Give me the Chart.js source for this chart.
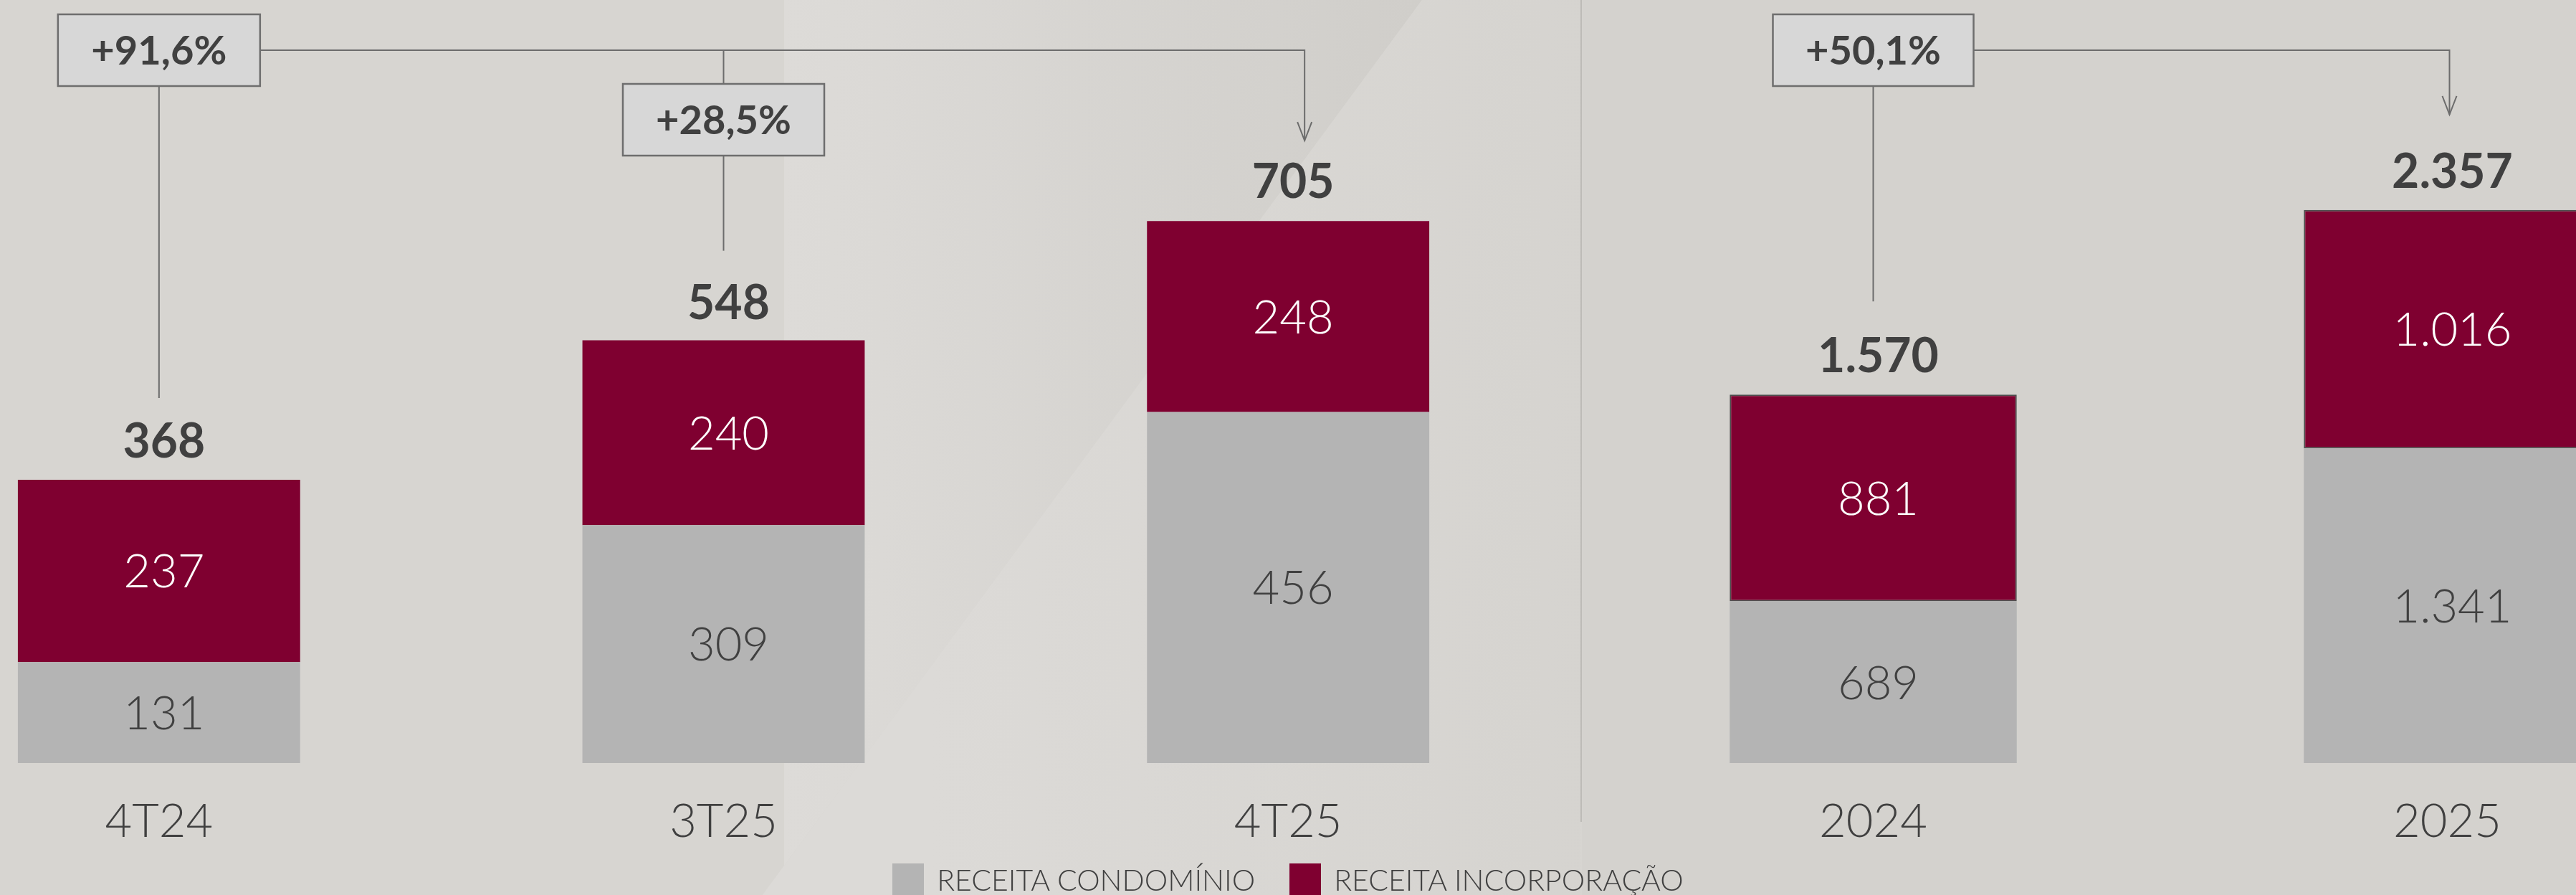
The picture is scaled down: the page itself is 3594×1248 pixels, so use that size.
<!DOCTYPE html>
<html>
<head>
<meta charset="utf-8">
<script src="https://cdn.jsdelivr.net/npm/chart.js@4.4.1/dist/chart.umd.min.js"></script>
<style>
html, body { margin: 0; padding: 0; }
body { width: 3594px; height: 1248px; overflow: hidden; position: relative; background: #d7d5d1; font-family: Lato, sans-serif; }
#bg { position: absolute; left: 0; top: 0; }
canvas { position: absolute; top: 0; }
#chartQ { left: -172px; }
#chartY { left: 2213px; }
#divider { position: absolute; left: 2205px; top: 0; width: 2px; height: 1146px; background: #bdbbb7; }
#legend { position: absolute; left: 0; top: 1204px; width: 3594px; height: 44px; display: flex; justify-content: center; align-items: center; }
.item { display: flex; align-items: center; height: 44px; }
.sw { width: 44px; height: 44px; margin-right: 18px; }
.txt { font: 300 41px Lato, sans-serif; color: #404040; line-height: 44px; position: relative; top: 1px; }
.gap { width: 48px; }
</style>
</head>
<body>
<svg id="bg" width="3594" height="1248">
  <defs>
    <linearGradient id="g1" x1="1094" y1="0" x2="1984" y2="0" gradientUnits="userSpaceOnUse">
      <stop offset="0" stop-color="#dddbd8"/>
      <stop offset="1" stop-color="#d0ceca"/>
    </linearGradient>
    <linearGradient id="g2" x1="1300" y1="0" x2="2300" y2="0" gradientUnits="userSpaceOnUse">
      <stop offset="0" stop-color="#dcdad7"/>
      <stop offset="1" stop-color="#d5d3cf"/>
    </linearGradient>
  </defs>
  <polygon points="1094,0 1984,0 1064,1248 1094,1248" fill="url(#g1)"/>
  <polygon points="1984,0 2205,0 2205,1248 1064,1248" fill="url(#g2)"/>
  <rect x="2207" y="0" width="1387" height="1248" fill="#d4d2ce"/>
</svg>
<div id="divider"></div>
<canvas id="chartQ" width="2363" height="1248"></canvas>
<canvas id="chartY" width="1602" height="1248"></canvas>
<div id="legend"></div>
<script>
// ---- data ----
const quarterLabels = ['4T24', '3T25', '4T25'];
const condominioQ   = [131, 309, 456];
const incorporacaoQ = [237, 240, 248];
const totalQ        = [368, 548, 705];
const growthQ       = ['+91,6%', '+28,5%'];

const yearLabels    = ['2024', '2025'];
const condominioY   = [689, 1341];
const incorporacaoY = [881, 1016];
const totalY        = [1570, 2357];
const growthY       = ['+50,1%'];

const seriesNames   = ['RECEITA CONDOMÍNIO', 'RECEITA INCORPORAÇÃO'];

// ---- style ----
const GRAY = '#b4b4b4';
const RED = '#7f0030';
const TEXT = '#404040';
const LINE = '#6c6c6c';
const FONT = 'Lato, "Open Sans", sans-serif';
const LABEL_DX = 7;
const fmt = v => v.toLocaleString('pt-BR');

// legend (html text)
const legend = document.getElementById('legend');
[GRAY, RED].forEach((c, i) => {
  if (i > 0) { const g = document.createElement('div'); g.className = 'gap'; legend.appendChild(g); }
  const it = document.createElement('div'); it.className = 'item';
  const sw = document.createElement('div'); sw.className = 'sw'; sw.style.background = c;
  const tx = document.createElement('div'); tx.className = 'txt'; tx.textContent = seriesNames[i];
  it.appendChild(sw); it.appendChild(tx); legend.appendChild(it);
});

function drawCentered(ctx, text, x, yCenter, size, weight, color) {
  ctx.font = `${weight} ${size}px ${FONT}`;
  ctx.fillStyle = color;
  ctx.textAlign = 'center';
  ctx.textBaseline = 'alphabetic';
  ctx.fillText(text, x, yCenter + size * 0.358);
}

// plugin: segment values, totals, growth annotations
const labelsPlugin = {
  id: 'labelsPlugin',
  afterDatasetsDraw(chart) {
    const ctx = chart.ctx;
    const cfg = chart.options.plugins.labelsPlugin;
    const yScale = chart.scales.y;
    const xScale = chart.scales.x;
    ctx.save();
    // segment values
    chart.data.datasets.forEach((ds, di) => {
      const meta = chart.getDatasetMeta(di);
      meta.data.forEach((el, i) => {
        const yc = (el.y + el.base) / 2;
        drawCentered(ctx, fmt(ds.data[i]), el.x + LABEL_DX, yc, 65, 300, di === 0 ? TEXT : '#ffffff');
      });
    });
    // totals
    const tops = cfg.totals.map((t, i) => yScale.getPixelForValue(t));
    cfg.totals.forEach((t, i) => {
      ctx.font = `700 66px ${FONT}`;
      ctx.fillStyle = TEXT;
      ctx.textAlign = 'center';
      ctx.textBaseline = 'alphabetic';
      ctx.fillText(fmt(t), xScale.getPixelForValue(i) + LABEL_DX, tops[i] - 31);
    });
    // growth annotations
    ctx.strokeStyle = LINE;
    ctx.lineWidth = 2;
    cfg.growth.forEach(g => {
      const xc = xScale.getPixelForValue(g.from);
      const bx = xc - g.w / 2, by = g.top, bw = g.w, bh = 100;
      if (g.hang) {
        ctx.beginPath(); ctx.moveTo(xc, 70); ctx.lineTo(xc, by); ctx.stroke();
      }
      ctx.beginPath(); ctx.moveTo(xc, by + bh); ctx.lineTo(xc, tops[g.from] - g.drop); ctx.stroke();
      if (g.to !== null) {
        const ax = xScale.getPixelForValue(g.to) + g.dx;
        const tipY = tops[g.to] - g.arrowGap;
        ctx.beginPath();
        ctx.moveTo(bx + bw, by + bh / 2);
        ctx.lineTo(ax, by + bh / 2);
        ctx.lineTo(ax, tipY);
        ctx.stroke();
        ctx.beginPath();
        ctx.moveTo(ax - 10, tipY - 26); ctx.lineTo(ax, tipY); ctx.lineTo(ax + 10, tipY - 26);
        ctx.stroke();
      }
      ctx.fillStyle = '#d7d7d7';
      ctx.fillRect(bx, by, bw, bh);
      ctx.lineWidth = 2.5;
      ctx.strokeStyle = '#6e6e6e';
      ctx.strokeRect(bx, by, bw, bh);
      ctx.lineWidth = 2;
      ctx.strokeStyle = LINE;
      drawCentered(ctx, g.label, xc, by + bh / 2, 56, 700, TEXT);
    });
    ctx.restore();
  }
};

function makeChart(id, labels, cond, inc, totals, yMax, growth, redBorder) {
  return new Chart(document.getElementById(id), {
    type: 'bar',
    data: {
      labels: labels,
      datasets: [
        { label: seriesNames[0], data: cond, backgroundColor: GRAY, borderWidth: 0 },
        { label: seriesNames[1], data: inc, backgroundColor: RED,
          borderColor: '#4d4d4d', borderWidth: redBorder ? 2 : 0, borderSkipped: false }
      ]
    },
    options: {
      responsive: false,
      animation: false,
      events: [],
      layout: { padding: { top: 0, bottom: 20, left: 0, right: 0 } },
      datasets: { bar: { categoryPercentage: 1, barPercentage: 0.5 } },
      scales: {
        x: {
          stacked: true,
          grid: { display: false, drawTicks: false },
          border: { display: false },
          ticks: { color: TEXT, padding: 43, maxRotation: 0, font: { family: FONT, size: 65, weight: 300 } }
        },
        y: { stacked: true, display: false, min: 0, max: yMax }
      },
      plugins: {
        legend: { display: false },
        tooltip: { enabled: false },
        labelsPlugin: { totals: totals, growth: growth }
      }
    },
    plugins: [labelsPlugin]
  });
}

function build() {
  makeChart('chartQ', quarterLabels, condominioQ, incorporacaoQ, totalQ, 991, [
    { from: 0, to: 2, label: growthQ[0], w: 282, top: 20, hang: false, drop: 114, dx: 23, arrowGap: 111 },
    { from: 1, to: null, label: growthQ[1], w: 281, top: 117, hang: true, drop: 126 }
  ], false);
  makeChart('chartY', yearLabels, condominioY, incorporacaoY, totalY, 3252, [
    { from: 0, to: 1, label: growthY[0], w: 280, top: 20, hang: false, drop: 130, dx: 3, arrowGap: 133 }
  ], true);
}

if (document.fonts && document.fonts.load) {
  Promise.all([
    document.fonts.load(`300 65px Lato`),
    document.fonts.load(`700 66px Lato`)
  ]).then(build, build);
} else { build(); }
</script>
</body>
</html>
